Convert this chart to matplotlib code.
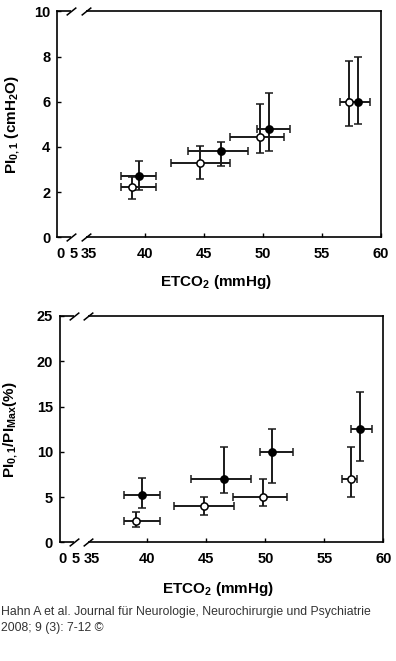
import matplotlib
matplotlib.use('Agg')
import matplotlib.pyplot as plt

plt.rcParams['font.family'] = ['Liberation Sans', 'DejaVu Sans']
plt.rcParams['mathtext.fontset'] = 'custom'
plt.rcParams['mathtext.rm'] = 'Liberation Sans:bold'
plt.rcParams['mathtext.it'] = 'Liberation Sans:bold'
plt.rcParams['mathtext.bf'] = 'Liberation Sans:bold'

# --- top panel: PI0.1 (cmH2O) vs ETCO2 ---
top_filled_x    = [39.5, 46.5, 50.55, 58.05]
top_filled_xlo  = [1.5, 2.8, 1.05, 0.8]
top_filled_xhi  = [1.5, 2.25, 1.75, 1.05]
top_filled_y    = [2.7, 3.81, 4.81, 6.0]
top_filled_ylo  = [0.62, 0.66, 0.97, 1.0]
top_filled_yhi  = [0.69, 0.39, 1.59, 2.0]

top_open_x      = [38.96, 44.73, 49.78, 57.31]
top_open_xlo    = [0.97, 2.5, 2.52, 0.77]
top_open_xhi    = [2.03, 2.53, 2.0, 0.77]
top_open_y      = [2.24, 3.3, 4.45, 6.0]
top_open_ylo    = [0.53, 0.71, 0.74, 1.08]
top_open_yhi    = [0.45, 0.75, 1.45, 1.81]

# --- bottom panel: PI0.1/PImax (%) vs ETCO2 ---
bot_filled_x    = [39.58, 46.53, 50.57, 58.03]
bot_filled_xlo  = [1.56, 2.79, 1.05, 0.76]
bot_filled_xhi  = [1.49, 2.29, 1.74, 1.02]
bot_filled_y    = [5.24, 7.0, 9.98, 12.52]
bot_filled_ylo  = [1.4, 1.5, 3.47, 3.53]
bot_filled_yhi  = [1.91, 3.5, 2.51, 4.05]

bot_open_x      = [39.04, 44.79, 49.77, 57.24]
bot_open_xlo    = [1.02, 2.54, 2.5, 0.73]
bot_open_xhi    = [2.03, 2.53, 2.06, 0.56]
bot_open_y      = [2.37, 3.99, 4.99, 7.0]
bot_open_ylo    = [0.7, 0.99, 0.96, 1.95]
bot_open_yhi    = [0.96, 0.99, 1.98, 3.5]

x_major = [40, 45, 50, 55, 60]
x_minor = [32.85, 33.95, 35.3]
x_minor_labels = ['0', '5', '35']
break_pos = [33.8, 35.0]

XMIN = 32.6
XMAX = 60


def draw_points(ax, x, xlo, xhi, y, ylo, yhi, face):
	ax.errorbar(x, y, xerr=[xlo, xhi], yerr=[ylo, yhi], fmt='o', color='black',
		markerfacecolor=face, markeredgecolor='black', markersize=5.2,
		markeredgewidth=1.1, elinewidth=1.4, capsize=2.8, capthick=1.4,
		ecolor='#1a1a1a', zorder=3)


def setup_axes(ax, ymax, ystep, ylabel):

	ax.set_xlim(XMIN, XMAX)
	ax.set_ylim(0, ymax)
	for sp in ax.spines.values():
		sp.set_linewidth(1.2)

	ax.set_xticks(x_major)
	ax.set_xticklabels([str(v) for v in x_major])
	ax.set_xticks(x_minor, minor=True)
	ax.set_xticklabels(x_minor_labels, minor=True)
	ax.set_yticks(range(0, ymax + 1, ystep))

	ax.tick_params(axis='both', which='major', direction='in', length=3, width=1,
		labelsize=10.5, pad=5)
	ax.tick_params(axis='x', which='minor', length=0, labelsize=10.5, pad=7)
	ax.tick_params(axis='x', which='major', pad=7)
	for lab in ax.get_xticklabels() + ax.get_yticklabels() + ax.get_xticklabels(minor=True):
		lab.set_fontweight('bold')

	# axis break: blank the spines between the slashes and draw //
	tr = ax.get_xaxis_transform()
	for yy in (0, 1):
		ax.plot(break_pos, [yy, yy], color='white', linewidth=3, transform=tr,
			clip_on=False, zorder=5, solid_capstyle='butt')
		ax.plot(break_pos, [yy, yy], linestyle='none', marker=[(-1, -0.8), (1, 0.8)],
			markersize=7, markeredgewidth=1.1, color='black', transform=tr,
			clip_on=False, zorder=6)

	ax.set_ylabel(ylabel, fontsize=11, fontweight='bold')
	ax.set_xlabel(r'ETCO$_2$ (mmHg)', fontsize=11, fontweight='bold')


fig = plt.figure(figsize=(3.96, 6.61), dpi=100)

ax1 = fig.add_axes([0.1447, 0.6410, 0.8167, 0.3419])
setup_axes(ax1, 10, 2, r'PI$_{0,1}$ (cmH$_2$O)')
ax1.yaxis.set_label_coords(-0.110, 0.5)
ax1.xaxis.set_label_coords(0.49, -0.158)
draw_points(ax1, top_open_x, top_open_xlo, top_open_xhi, top_open_y, top_open_ylo, top_open_yhi, 'white')
draw_points(ax1, top_filled_x, top_filled_xlo, top_filled_xhi, top_filled_y, top_filled_ylo, top_filled_yhi, 'black')

ax2 = fig.add_axes([0.1515, 0.1793, 0.8164, 0.3428])
setup_axes(ax2, 25, 5, r'PI$_{0,1}$/PI$_{Max}$(%)')
ax2.yaxis.set_label_coords(-0.124, 0.5)
ax2.xaxis.set_label_coords(0.49, -0.165)
draw_points(ax2, bot_open_x, bot_open_xlo, bot_open_xhi, bot_open_y, bot_open_ylo, bot_open_yhi, 'white')
draw_points(ax2, bot_filled_x, bot_filled_xlo, bot_filled_xhi, bot_filled_y, bot_filled_ylo, bot_filled_yhi, 'black')

fig.text(0.002, 1 - 611.5 / 661, 'Hahn A et al. Journal für Neurologie, Neurochirurgie und Psychiatrie',
	fontsize=8.8, color='#333333', va='center', ha='left')
fig.text(0.002, 1 - 628 / 661, '2008; 9 (3): 7-12 ©',
	fontsize=8.8, color='#333333', va='center', ha='left')

fig.savefig('out.png', dpi=100)
